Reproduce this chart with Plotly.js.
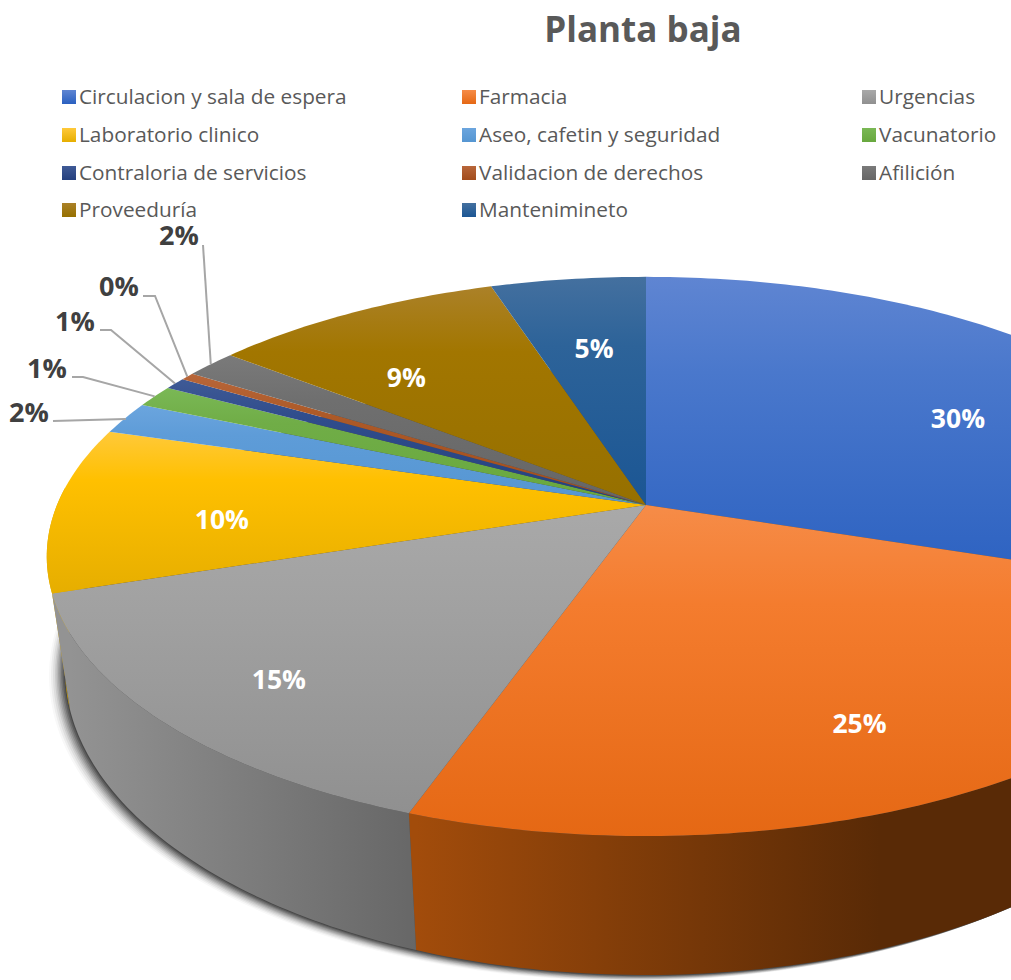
<!DOCTYPE html>
<html><head><meta charset="utf-8">
<script src="https://cdn.plot.ly/plotly-3.0.1.min.js"></script>
<style>html,body{margin:0;padding:0;background:#fff}#c{width:1011px;height:980px}</style></head>
<body><div id="c"></div>
<script>
// ---- data ----
const categories = ["Circulacion y sala de espera","Farmacia","Urgencias","Laboratorio clinico","Aseo, cafetin y seguridad","Vacunatorio","Contraloria de servicios","Validacion de derechos","Afilición","Proveeduría","Mantenimineto"];
const values = [30,25.4,14.6,9.6,1.9,1.3,0.7,0.45,1.65,9.4,5];
const colorsTop = ["#5f85d2","#f68c48","#a9a9a9","#ffc93a","#6ba5de","#7ab855","#3f5a96","#b8663a","#7a7a7a","#ab8128","#44709f"];
const colorsMid = ["#4a78cc","#f47c2e","#a2a2a2","#ffc000","#5e9cd8","#70ad47","#304d8c","#ad5a28","#6f6f6f","#a27600","#2d6399"];
const colorsBottom = ["#2a60c0","#e56814","#909090","#e6ae00","#5596d2","#68a83e","#24407e","#a24c1c","#666666","#967000","#1b5694"];
const wallLeft = ["#2a4f9a","#a24c0b","#939393","#d9a800","#3f78b0","#4f8a30","#1c3468","#86380f","#555555","#7c5d00","#154a7c"];
const wallRight = ["#1c3468","#592a06","#676767","#c09400","#3f78b0","#4f8a30","#1c3468","#86380f","#555555","#7c5d00","#154a7c"];
// ---- view geometry (perspective projection of the disc) ----
const persp = -0.184;
const topFace = {cx:646, p:177.2, q:505, s:589};
const botFace = {cx:646, p:181.7, q:613.9, s:571};
const total = values.reduce((a,b)=>a+b,0);
function proj(face, pct, f){
  const t = pct/100*2*Math.PI, u = f*Math.sin(t), v = -f*Math.cos(t), d = 1+persp*v;
  return [face.cx+face.s*u/d, (face.p*v+face.q)/d];
}
function arc(face, a, b){
  const pts=[], n=Math.max(4,Math.ceil(Math.abs(b-a)*4));
  for(let i=0;i<=n;i++) pts.push(proj(face,a+(b-a)*i/n,1));
  return pts;
}
const traces=[];
const cum=[0]; values.forEach(v=>cum.push(cum[cum.length-1]+v/total*100));
function ring(face,grow,dx,dy){
  const pts=arc(face,0,100);
  const mx=face.cx, my=(Math.min(...pts.map(p=>p[1]))+Math.max(...pts.map(p=>p[1])))/2;
  return pts.map(p=>[mx+(p[0]-mx)*grow+dx, my+(p[1]-my)*grow+dy]);
}
function poly(pts,extra){
  return Object.assign({type:'scatter',mode:'none',x:pts.map(p=>p[0]),y:pts.map(p=>p[1]),fill:'toself',hoverinfo:'skip',showlegend:false,line:{width:0}},extra);
}
// soft shadow below the disc
const shadowSteps=[[-16,6,0.03],[-14,5.4,0.05],[-12,4.8,0.07],[-10,4.2,0.09],[-8.5,3.6,0.11],[-7,3,0.13],[-5.5,2.4,0.16],[-4,1.8,0.2],[-2.5,1.2,0.25],[-1,0.6,0.3]];
shadowSteps.forEach(s=>traces.push(poly(ring(botFace,1,s[0],s[1]),{fillcolor:'rgba(25,25,25,'+s[2]+')'})));
// side walls, back to front
[3,1,2].forEach(i=>{
  const a=cum[i], b=Math.min(cum[i+1], i===3?76:cum[i+1]);
  const up=arc(topFace,a,b), lo=arc(botFace,a,b).reverse();
  const pts=up.concat(lo); pts.push(up[0]);
  const range={1:[416,880],2:[70,416],3:[55,75]}[i];
  traces.push(poly(pts,{fillgradient:{type:'horizontal',start:range[0],stop:range[1],colorscale:[[0,wallLeft[i]],[1,wallRight[i]]]}}));
});
// top face slices
values.forEach((v,i)=>{
  const a=cum[i], b=cum[i+1];
  const pts=[[topFace.cx,topFace.q]].concat(arc(topFace,a,b)); pts.push([topFace.cx,topFace.q]);
  const ys=pts.map(p=>p[1]);
  traces.push(poly(pts,{name:categories[i],fillgradient:{type:'vertical',start:Math.min(...ys),stop:Math.max(...ys),colorscale:[[0,colorsTop[i]],[0.3,colorsMid[i]],[1,colorsBottom[i]]]}}));
});
// percentage labels
const pctText=values.map(v=>Math.round(v/total*100)+'%');
const insideLabels=[[0,16.3,0.659],[1,43.3,0.772],[2,62.2,0.803],[3,73.8,0.715],[9,88.7,0.684],[10,97.6,0.658]];
const labelNudge=3;
const ip=insideLabels.map(l=>proj(topFace,l[1],l[2]));
traces.push({type:'scatter',mode:'text',x:ip.map(p=>p[0]),y:ip.map(p=>p[1]+labelNudge),text:insideLabels.map(l=>pctText[l[0]]),
  textposition:'middle center',textfont:{family:'"Open Sans",sans-serif',size:26.5,color:'#ffffff',weight:700},hoverinfo:'skip',showlegend:false});
// leader lines and outside labels
const outside=[[4,29,415,53,421,125,419],[5,47,371,72,377,83,377],[6,75,324,100,330,111,330],[7,119,289,143,296,155,296],[8,179,238,203,245,203,245]];
outside.forEach(o=>{
  const i=o[0], end=proj(topFace,(cum[i]+cum[i+1])/2,1);
  traces.push({type:'scatter',mode:'lines',x:[o[3],o[5],end[0]],y:[o[4],o[6],end[1]],line:{color:'#a6a6a6',width:2},hoverinfo:'skip',showlegend:false});
});
traces.push({type:'scatter',mode:'text',x:outside.map(o=>o[1]),y:outside.map(o=>o[2]),text:outside.map(o=>pctText[o[0]]),
  textposition:'middle center',textfont:{family:'"Open Sans",sans-serif',size:27,color:'#404040',weight:700},hoverinfo:'skip',showlegend:false});
// legend
const legCols=[69,469,869], legRows=[97,135,173,210];
traces.push({type:'scatter',mode:'markers',x:categories.map((c,i)=>legCols[i%3]),y:categories.map((c,i)=>legRows[Math.floor(i/3)]),
  cliponaxis:false,marker:{symbol:'square',size:14,color:colorsTop,line:{width:0},gradient:{type:'vertical',color:colorsBottom}},hoverinfo:'skip',showlegend:false});
traces.push({type:'scatter',mode:'text',x:categories.map((c,i)=>legCols[i%3]+10),y:categories.map((c,i)=>legRows[Math.floor(i/3)]+1.5),
  text:categories,textposition:'middle right',cliponaxis:false,
  textfont:{family:'"Open Sans",sans-serif',size:20.8,color:'#595959'},hoverinfo:'skip',showlegend:false});
const layout={width:1011,height:980,margin:{l:0,r:0,t:0,b:0},paper_bgcolor:'#fff',plot_bgcolor:'#fff',showlegend:false,
  title:{text:'Planta baja',x:0.636,xanchor:'center',y:0.9695,yanchor:'middle',font:{family:'"Open Sans",sans-serif',size:35,color:'#595959',weight:700}},
  xaxis:{range:[0,1011],visible:false,fixedrange:true},
  yaxis:{range:[980,0],visible:false,fixedrange:true}};
Plotly.newPlot('c',traces,layout,{displayModeBar:false,staticPlot:true});
</script></body></html>
